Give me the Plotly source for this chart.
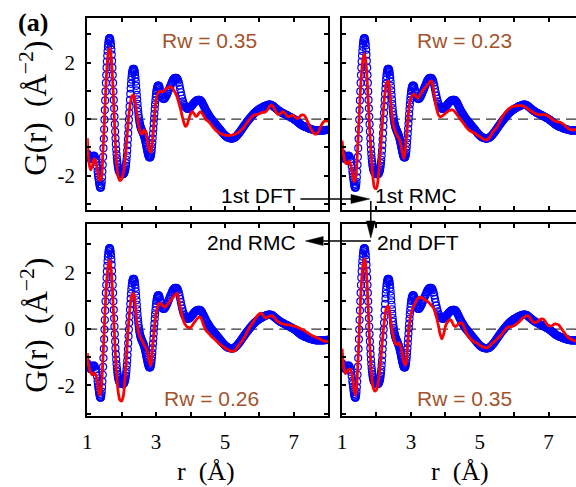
import numpy as np
import plotly.graph_objects as go

# ---------------- data ----------------
# experimental G(r): three stretches of the r grid, finer where the peaks are steep
R_EXP_A = (1.00, 0.02)   # 1.00 .. 1.28 Å
g_exp_a = [
    -1.22, -1.26, -1.31, -1.36, -1.40, -1.42, -1.40, -1.35, -1.31, -1.29,
    -1.30, -1.34, -1.42, -1.52, -1.66,
]
R_EXP_B = (1.30, 0.01)   # 1.30 .. 3.10 Å
g_exp_b = [
    -1.84, -1.94, -2.04, -2.13, -2.22, -2.30, -2.36, -2.41, -2.43, -2.43,
    -2.40, -2.33, -2.22, -2.06, -1.86, -1.62, -1.34, -1.03, -0.70, -0.36,
    -0.02, 0.32, 0.66, 0.98, 1.28, 1.56, 1.82, 2.04, 2.24, 2.41,
    2.56, 2.67, 2.76, 2.82, 2.86, 2.87, 2.85, 2.80, 2.72, 2.61,
    2.46, 2.28, 2.06, 1.82, 1.56, 1.28, 0.98, 0.68, 0.38, 0.09,
    -0.18, -0.44, -0.68, -0.89, -1.08, -1.24, -1.38, -1.50, -1.60, -1.68,
    -1.74, -1.79, -1.83, -1.86, -1.88, -1.90, -1.91, -1.92, -1.93, -1.94,
    -1.94, -1.95, -1.95, -1.95, -1.95, -1.94, -1.93, -1.91, -1.88, -1.84,
    -1.80, -1.74, -1.66, -1.56, -1.44, -1.29, -1.12, -0.93, -0.72, -0.50,
    -0.26, -0.02, 0.22, 0.45, 0.68, 0.89, 1.08, 1.25, 1.40, 1.52,
    1.62, 1.69, 1.74, 1.77, 1.78, 1.78, 1.76, 1.72, 1.66, 1.57,
    1.46, 1.33, 1.18, 1.02, 0.86, 0.70, 0.54, 0.39, 0.26, 0.14,
    0.04, -0.05, -0.12, -0.18, -0.24, -0.28, -0.32, -0.35, -0.38, -0.41,
    -0.44, -0.47, -0.50, -0.53, -0.56, -0.60, -0.64, -0.69, -0.74, -0.80,
    -0.86, -0.92, -0.98, -1.04, -1.10, -1.16, -1.21, -1.26, -1.30, -1.33,
    -1.35, -1.36, -1.36, -1.35, -1.32, -1.27, -1.20, -1.10, -0.98, -0.84,
    -0.68, -0.51, -0.34, -0.16, 0.02, 0.19, 0.36, 0.52, 0.66, 0.79,
    0.90, 0.99, 1.06, 1.11, 1.15, 1.18, 1.19, 1.19, 1.18, 1.15,
    1.12,
]
R_EXP_C = (3.12, 0.02)   # 3.12 .. 8.00 Å
g_exp_c = [
    1.03, 0.93, 0.83, 0.76,
    0.72, 0.71, 0.72, 0.75, 0.79, 0.84, 0.89, 0.95, 1.01, 1.07,
    1.13, 1.19, 1.25, 1.31, 1.36, 1.40, 1.43, 1.45, 1.46, 1.46,
    1.45, 1.42, 1.37, 1.29, 1.19, 1.07, 0.95, 0.83, 0.72, 0.63,
    0.55, 0.49, 0.44, 0.41, 0.39, 0.37, 0.36, 0.36, 0.37, 0.39,
    0.42, 0.45, 0.48, 0.51, 0.54, 0.57, 0.60, 0.62, 0.64, 0.66,
    0.67, 0.68, 0.68, 0.68, 0.67, 0.65, 0.62, 0.58, 0.53, 0.48,
    0.43, 0.38, 0.33, 0.28, 0.24, 0.20, 0.16, 0.12, 0.08, 0.04,
    0.01, -0.02, -0.05, -0.08, -0.11, -0.14, -0.17, -0.20, -0.23, -0.26,
    -0.29, -0.32, -0.35, -0.38, -0.41, -0.44, -0.47, -0.50, -0.53, -0.55,
    -0.58, -0.60, -0.62, -0.64, -0.65, -0.66, -0.67, -0.68, -0.68, -0.69,
    -0.69, -0.69, -0.68, -0.67, -0.66, -0.64, -0.62, -0.60, -0.57, -0.54,
    -0.51, -0.48, -0.45, -0.41, -0.38, -0.34, -0.31, -0.27, -0.24, -0.20,
    -0.17, -0.13, -0.10, -0.07, -0.04, -0.01, 0.02, 0.05, 0.08, 0.11,
    0.14, 0.17, 0.19, 0.22, 0.24, 0.26, 0.28, 0.30, 0.32, 0.34,
    0.35, 0.37, 0.38, 0.40, 0.41, 0.42, 0.44, 0.45, 0.46, 0.47,
    0.48, 0.49, 0.50, 0.50, 0.51, 0.51, 0.51, 0.50, 0.49, 0.48,
    0.46, 0.44, 0.42, 0.40, 0.38, 0.36, 0.34, 0.32, 0.30, 0.28,
    0.27, 0.25, 0.24, 0.22, 0.21, 0.20, 0.19, 0.17, 0.16, 0.15,
    0.14, 0.12, 0.11, 0.10, 0.08, 0.07, 0.06, 0.04, 0.03, 0.02,
    0.00, -0.02, -0.03, -0.05, -0.07, -0.09, -0.11, -0.13, -0.15, -0.17,
    -0.19, -0.21, -0.22, -0.24, -0.25, -0.26, -0.27, -0.28, -0.29, -0.30,
    -0.31, -0.32, -0.33, -0.34, -0.35, -0.36, -0.36, -0.37, -0.38, -0.38,
    -0.39, -0.39, -0.40, -0.40, -0.40, -0.40, -0.40, -0.40, -0.40, -0.40,
    -0.40, -0.40, -0.40, -0.40, -0.40, -0.39, -0.39, -0.39, -0.38, -0.38,
    -0.38,
]

# model G(r), sampled every 0.05 Å from 1.00 to 8.00 Å
R_MOD_START, R_MOD_STEP = 1.00, 0.05
g_dft1 = [
    -0.67, -1.55, -1.80, -1.65, -1.40, -1.50, -1.85, -2.15, -2.15, -1.30,
    0.00, 1.40, 2.25, 2.52, 2.15, 1.05, -0.40, -1.50, -2.05, -2.18,
    -2.12, -1.90, -1.40, -0.70, 0.05, 0.55, 0.82, 0.85, 0.55, 0.10,
    -0.25, -0.50, -0.52, -0.38, -0.45, -0.80, -1.10, -1.18, -0.70, 0.10,
    0.65, 0.92, 0.98, 0.97, 0.97, 1.02, 1.08, 1.12, 1.15, 1.13,
    1.05, 0.95, 0.82, 0.62, 0.40, 0.15, -0.10, -0.26, -0.20, 0.00,
    0.18, 0.26, 0.20, 0.10, 0.12, 0.22, 0.26, 0.18, 0.08, -0.02,
    -0.06, -0.12, -0.20, -0.28, -0.35, -0.41, -0.46, -0.50, -0.53, -0.55,
    -0.57, -0.58, -0.58, -0.58, -0.57, -0.55, -0.53, -0.50, -0.46, -0.41,
    -0.35, -0.28, -0.20, -0.12, -0.04, 0.04, 0.10, 0.14, 0.16, 0.17,
    0.19, 0.22, 0.24, 0.24, 0.28, 0.35, 0.45, 0.50, 0.45, 0.33,
    0.22, 0.16, 0.18, 0.24, 0.26, 0.20, 0.12, 0.08, 0.10, 0.14,
    0.12, 0.05, 0.02, 0.05, 0.12, 0.15, 0.14, 0.05, -0.08, -0.22,
    -0.35, -0.45, -0.52, -0.53, -0.48, -0.36, -0.22, -0.12, -0.07, -0.06,
    -0.08,
]
g_rmc1 = [
    -0.76, -1.30, -1.55, -1.58, -1.48, -1.62, -1.92, -2.22, -2.05, -1.10,
    0.20, 1.35, 2.05, 2.33, 1.95, 0.90, -0.30, -1.30, -2.10, -2.44,
    -2.45, -2.10, -1.40, -0.55, 0.30, 0.95, 1.30, 1.35, 0.80, 0.15,
    -0.25, -0.45, -0.58, -0.68, -0.85, -1.15, -1.40, -0.95, -0.20, 0.45,
    0.75, 0.86, 0.88, 0.80, 0.74, 0.82, 0.94, 1.02, 1.09, 1.16,
    1.24, 1.32, 1.35, 1.12, 0.70, 0.35, 0.15, 0.08, 0.10, 0.15,
    0.20, 0.25, 0.29, 0.32, 0.33, 0.30, 0.22, 0.14, 0.06, -0.02,
    -0.10, -0.18, -0.28, -0.34, -0.40, -0.44, -0.47, -0.50, -0.54, -0.58,
    -0.62, -0.66, -0.70, -0.73, -0.74, -0.70, -0.62, -0.52, -0.43, -0.36,
    -0.28, -0.18, -0.05, 0.06, 0.16, 0.24, 0.31, 0.37, 0.41, 0.44,
    0.46, 0.47, 0.48, 0.48, 0.48, 0.47, 0.44, 0.40, 0.36, 0.32,
    0.28, 0.24, 0.21, 0.18, 0.16, 0.15, 0.15, 0.16, 0.15, 0.13,
    0.10, 0.05, 0.00, -0.04, -0.08, -0.10, -0.10, -0.12, -0.15, -0.20,
    -0.26, -0.31, -0.35, -0.38, -0.38, -0.38, -0.36, -0.36, -0.37, -0.38,
    -0.38,
]
g_rmc2 = [
    -0.85, -1.35, -1.55, -1.62, -1.55, -1.62, -1.95, -2.35, -2.20, -1.20,
    0.20, 1.45, 2.20, 2.45, 2.05, 0.90, -0.45, -1.55, -2.25, -2.52,
    -2.55, -2.35, -1.70, -0.75, 0.20, 0.85, 1.20, 1.27, 0.80, 0.15,
    -0.15, -0.32, -0.42, -0.55, -0.65, -0.82, -1.15, -1.30, -0.60, 0.05,
    0.55, 0.82, 0.92, 0.88, 0.82, 0.78, 0.82, 0.90, 0.98, 1.06,
    1.14, 1.22, 1.27, 1.10, 0.78, 0.48, 0.28, 0.15, 0.08, 0.05,
    0.05, 0.12, 0.22, 0.30, 0.38, 0.42, 0.40, 0.25, 0.08, -0.05,
    -0.12, -0.18, -0.25, -0.31, -0.36, -0.42, -0.48, -0.54, -0.58, -0.62,
    -0.67, -0.71, -0.74, -0.77, -0.79, -0.79, -0.75, -0.66, -0.58, -0.50,
    -0.42, -0.33, -0.22, -0.10, 0.02, 0.12, 0.20, 0.30, 0.40, 0.48,
    0.54, 0.56, 0.50, 0.42, 0.39, 0.42, 0.46, 0.47, 0.45, 0.38,
    0.30, 0.25, 0.22, 0.19, 0.17, 0.16, 0.15, 0.15, 0.14, 0.12,
    0.10, 0.09, 0.07, 0.04, 0.01, -0.02, -0.05, -0.09, -0.13, -0.17,
    -0.21, -0.24, -0.27, -0.29, -0.32, -0.35, -0.38, -0.41, -0.43, -0.44,
    -0.45,
]
g_dft2 = [
    -0.70, -1.35, -1.58, -1.50, -1.42, -1.45, -1.70, -2.15, -2.35, -1.50,
    -0.05, 1.35, 2.20, 2.50, 2.15, 1.00, -0.40, -1.50, -2.05, -2.20,
    -2.15, -1.90, -1.40, -0.75, -0.05, 0.50, 0.78, 0.80, 0.45, 0.00,
    -0.30, -0.52, -0.55, -0.48, -0.60, -0.85, -1.20, -1.28, -0.65, 0.10,
    0.50, 0.72, 0.86, 0.98, 1.08, 1.13, 1.12, 1.08, 1.04, 1.00,
    0.96, 0.90, 0.83, 0.76, 0.62, 0.40, 0.12, -0.18, -0.35, -0.20,
    0.08, 0.22, 0.30, 0.33, 0.25, 0.12, 0.09, 0.14, 0.20, 0.22,
    0.18, 0.05, -0.10, -0.22, -0.30, -0.37, -0.42, -0.46, -0.49, -0.53,
    -0.57, -0.61, -0.64, -0.66, -0.67, -0.64, -0.58, -0.52, -0.47, -0.42,
    -0.36, -0.30, -0.24, -0.17, -0.09, -0.01, 0.05, 0.08, 0.08, 0.09,
    0.12, 0.16, 0.21, 0.26, 0.32, 0.38, 0.43, 0.46, 0.47, 0.42,
    0.32, 0.25, 0.23, 0.24, 0.28, 0.33, 0.36, 0.35, 0.28, 0.18,
    0.12, 0.10, 0.12, 0.16, 0.18, 0.17, 0.14, 0.06, -0.03, -0.12,
    -0.20, -0.27, -0.32, -0.36, -0.39, -0.41, -0.42, -0.42, -0.42, -0.42,
    -0.42,
]

panel_models = [g_dft1, g_rmc1, g_rmc2, g_dft2]
rw_labels = ["Rw = 0.35", "Rw = 0.23", "Rw = 0.26", "Rw = 0.35"]
x_major = [1, 3, 5, 7]
x_major_text = ["1", "3", "5", "7"]
x_minor = [2, 4, 6, 8]
y_major = [-2, 0, 2]
y_major_text = ["-2", "0", "2"]
y_minor = [-3, -1, 1, 3]


def grid(start_step, n):
    start, step = start_step
    return start + step * np.arange(n)


r_exp = np.concatenate([grid(R_EXP_A, len(g_exp_a)),
                        grid(R_EXP_B, len(g_exp_b)),
                        grid(R_EXP_C, len(g_exp_c))])
g_exp = g_exp_a + g_exp_b + g_exp_c
r_mod = grid((R_MOD_START, R_MOD_STEP), len(g_dft1))

# ---------------- layout geometry (pixels) ----------------
W, H = 576, 487
PX_PER_R = 243 / 7.0


def px(x):
    return x / W


def py(y):
    return 1 - y / H


col_left = (83, 326)
col_right = (340, 576)
row_top = (18.3, 210.0)
row_bot = (224.0, 415.7)
yr_top = [-3.22, 3.57]
yr_bot = [-3.07, 3.72]

panels = [
    dict(col=col_left, row=row_top, yr=yr_top, xlab=False, ylab=True, right=True),
    dict(col=col_right, row=row_top, yr=yr_top, xlab=False, ylab=False, right=False),
    dict(col=col_left, row=row_bot, yr=yr_bot, xlab=True, ylab=True, right=True),
    dict(col=col_right, row=row_bot, yr=yr_bot, xlab=True, ylab=False, right=False),
]

SERIF = "Liberation Serif"
SANS = "Liberation Sans"
RW_COLOR = "#A3532C"

fig = go.Figure()
layout = dict(
    width=W, height=H,
    margin=dict(l=0, r=0, t=0, b=0),
    paper_bgcolor="white", plot_bgcolor="white",
    showlegend=False,
)

shapes = []
annotations = []

tick_style = dict(ticks="inside", ticklen=4, tickwidth=1.5, tickcolor="black")

for i, (p, g_mod, rw) in enumerate(zip(panels, panel_models, rw_labels)):
    n = "" if i == 0 else str(i + 1)
    xa, ya = "x" + n, "y" + n
    x0, x1 = p["col"]
    y0, y1 = p["row"]
    xmax = 1 + (x1 - x0) / PX_PER_R

    fig.add_trace(go.Scatter(
        x=r_exp, y=g_exp, mode="markers", xaxis=xa, yaxis=ya,
        marker=dict(symbol="circle-open", size=7, color="#0000FF",
                    line=dict(width=1.2, color="#0000FF")),
    ))
    fig.add_trace(go.Scatter(
        x=r_mod, y=g_mod, mode="lines", xaxis=xa, yaxis=ya,
        line=dict(color="#FF0000", width=2.8, shape="spline", smoothing=0.7),
    ))

    common = dict(
        showline=True, linewidth=2, linecolor="black",
        showgrid=False, zeroline=False,
        tickfont=dict(family=SERIF, size=21, color="black"),
        tickmode="array", ticklabelstandoff=6, **tick_style,
    )
    layout["xaxis" + n] = dict(
        common, domain=[px(x0), px(x1)], range=[1, xmax],
        anchor=ya, mirror="allticks",
        tickvals=x_major, ticktext=x_major_text,
        minor=dict(tickmode="array", tickvals=x_minor, showgrid=False, **tick_style),
        showticklabels=p["xlab"],
    )
    layout["yaxis" + n] = dict(
        common, domain=[py(y1), py(y0)], range=p["yr"],
        anchor=xa, mirror="allticks" if p["right"] else False,
        tickvals=y_major, ticktext=y_major_text,
        minor=dict(tickmode="array", tickvals=y_minor, showgrid=False, **tick_style),
        showticklabels=p["ylab"],
    )

    # zero reference line
    shapes.append(dict(
        type="line", xref=xa + " domain", yref=ya, x0=0, x1=1, y0=0, y1=0,
        line=dict(color="#333333", width=1.2, dash="10px,6px"), layer="below",
    ))

# Rw labels
for (x, y), rw in zip([(206, 40), (464, 40), (208, 398), (464, 398)], rw_labels):
    annotations.append(dict(
        x=px(x), y=py(y), xref="paper", yref="paper", text=rw, showarrow=False,
        font=dict(family=SANS, size=21, color=RW_COLOR),
        xanchor="center", yanchor="middle",
    ))

# workflow labels
for (x, y), t in zip([(255.5, 196), (415, 196), (249, 242.5), (416.5, 242.5)],
                     ["1st DFT", "1st RMC", "2nd RMC", "2nd DFT"]):
    annotations.append(dict(
        x=px(x), y=py(y), xref="paper", yref="paper", text=t, showarrow=False,
        font=dict(family=SANS, size=21, color="black"),
        xanchor="center", yanchor="middle",
    ))

# axis titles
for y in (108, 325):
    annotations.append(dict(
        x=px(29), y=py(y), xref="paper", yref="paper",
        text="G(r)\u2002(Å<sup>\u22122</sup>)", showarrow=False, textangle=-90,
        font=dict(family=SERIF, size=31, color="black"),
        xanchor="center", yanchor="middle",
    ))
for x in (203, 459):
    annotations.append(dict(
        x=px(x), y=py(471), xref="paper", yref="paper",
        text="r\u2002(Å)", showarrow=False,
        font=dict(family=SERIF, size=26, color="black"),
        xanchor="center", yanchor="middle",
    ))

annotations.append(dict(
    x=px(28), y=py(23), xref="paper", yref="paper", text="<b>(a)</b>",
    showarrow=False, font=dict(family=SERIF, size=26, color="black"),
    xanchor="center", yanchor="middle",
))


# workflow arrows
def seg(xa_, ya_, xb, yb):
    return dict(type="line", xref="paper", yref="paper",
                x0=px(xa_), y0=py(ya_), x1=px(xb), y1=py(yb),
                line=dict(color="black", width=1.5))


def tri(pts):
    path = "M " + " L ".join(f"{px(a):.5f},{py(b):.5f}" for a, b in pts) + " Z"
    return dict(type="path", xref="paper", yref="paper", path=path,
                fillcolor="black", line=dict(color="black", width=0.5))


shapes += [
    seg(298, 199, 351, 199),
    tri([(368, 199), (349, 194.5), (349, 203.5)]),
    seg(369, 201, 369, 223),
    tri([(369, 238), (364.5, 221), (373.5, 221)]),
    seg(321, 241, 369, 241),
    tri([(303, 241), (321, 236.5), (321, 245.5)]),
]

layout["shapes"] = shapes
layout["annotations"] = annotations
fig.update_layout(**layout)
fig.write_html("out.html")
